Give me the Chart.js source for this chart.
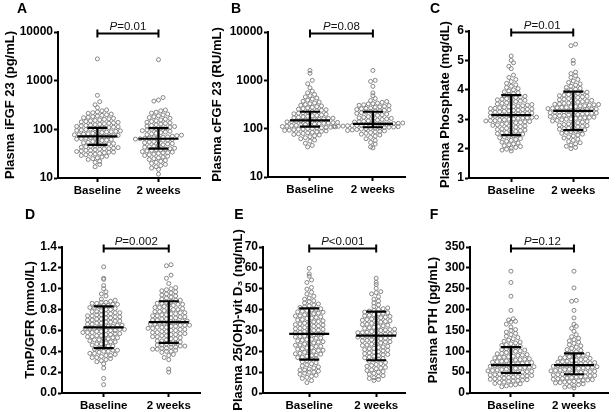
<!DOCTYPE html>
<html>
<head>
<meta charset="utf-8">
<script src="https://cdn.jsdelivr.net/npm/chart.js@4.4.1/dist/chart.umd.min.js"></script>
<style>
  html, body { margin: 0; padding: 0; background: #fff; }
  #wrap { position: relative; width: 616px; height: 412px; overflow: hidden; }
  #wrap canvas { position: absolute; }
</style>
</head>
<body>
<div id="wrap">
  <canvas id="cA" style="left:0;top:0"></canvas>
  <canvas id="cB" style="left:205px;top:0"></canvas>
  <canvas id="cC" style="left:410px;top:0"></canvas>
  <canvas id="cD" style="left:0;top:200px"></canvas>
  <canvas id="cE" style="left:205px;top:200px"></canvas>
  <canvas id="cF" style="left:410px;top:200px"></canvas>
</div>
<script>
const groups = ['Baseline', '2 weeks'];

// tick labels
const logTicks = [10, 100, 1000, 10000];
const phosTicks = [1, 2, 3, 4, 5, 6];
const tmpTicks = [0, 0.2, 0.4, 0.6, 0.8, 1.0, 1.2, 1.4];
const vitTicks = [0, 10, 20, 30, 40, 50, 60, 70];
const pthTicks = [0, 50, 100, 150, 200, 250, 300, 350];

const pLabels = ['=0.01', '=0.08', '=0.01', '=0.002', '<0.001', '=0.12'];

// A: iFGF23 (pg/mL)
const iFGFBase = [17,19,21,22,24,25,26,27,28,29,30,31,31,32,33,34,34,35,36,37,37,38,39,40,40,41,42,43,44,45,46,47,
  48,50,51,53,54,56,57,59,60,62,63,65,66,68,69,70,71,72,74,75,77,78,80,81,83,84,86,88,89,91,93,95,97,99,101,103,105,106,
  109,111,113,115,118,120,122,125,127,130,133,136,139,142,145,149,152,156,160,164,168,173,178,183,188,194,200,206,213,220,228,240,250,280,320,370,500,2800];
const iFGFWeek2 = [12,15,16,17,18,19,20,21,22,23,24,25,26,27,28,29,30,31,32,33,33,34,35,36,37,38,38,39,
  40,41,43,44,45,47,48,50,51,53,55,56,58,60,60,62,63,64,65,66,67,68,69,70,72,74,76,78,81,83,86,88,91,94,97,100,103,106,
  108,111,114,117,120,124,128,132,136,140,145,150,156,162,168,175,182,190,198,207,216,225,240,250,380,400,450,2700];
const iFGFMid = [72, 64];
const iFGFLow = [48, 40];
const iFGFHigh = [107, 106];

// B: cFGF23 (RU/mL)
const cFGFBase = [42,45,50,55,58,62,65,68,71,74,76,78,80,82,84,86,88,90,92,93,95,97,98,100,101,103,104,106,107,109,
  111,113,115,117,119,121,123,125,127,129,131,133,135,138,140,143,145,148,150,153,156,159,162,165,168,172,176,180,184,188,193,198,203,208,214,220,
  228,234,240,246,253,260,268,276,285,295,305,316,328,340,355,370,390,410,430,455,480,510,550,600,700,850,1000,1400,1600];
const cFGFWeek2 = [40,42,48,52,57,62,66,70,74,77,80,83,86,88,90,92,94,96,98,100,101,103,104,106,
  107,108,110,111,112,113,115,116,117,118,120,121,122,124,125,126,128,129,131,133,135,137,139,142,145,148,151,155,159,163,167,172,177,182,188,194,200,207,214,221,
  228,232,235,242,246,250,258,262,267,277,282,288,300,305,312,325,330,338,350,365,380,420,480,550,750,950,1000,1600];
const cFGFMid = [149, 126];
const cFGFLow = [110, 107];
const cFGFHigh = [224, 224];

// C: phosphate (mg/dL)
const phosBase = [1.92,1.95,1.98,2.01,2.04,2.07,2.10,2.13,2.16,2.19,2.22,2.25,2.28,2.31,2.34,2.37,2.40,2.42,2.44,
  2.47,2.49,2.51,2.53,2.55,2.57,2.59,2.61,2.63,2.65,2.67,2.69,2.71,2.73,2.75,2.77,2.79,2.81,2.83,2.85,
  2.86,2.88,2.89,2.91,2.92,2.94,2.95,2.95,2.97,2.98,3.00,3.01,3.03,3.04,3.05,3.06,3.07,3.09,3.10,3.12,3.13,3.15,3.16,3.18,3.19,3.20,3.21,3.22,3.24,3.25,3.27,3.28,3.30,3.31,3.33,3.34,3.35,3.36,3.37,3.39,3.40,3.42,3.43,3.45,3.46,3.48,
  3.50,3.52,3.54,3.56,3.58,3.60,3.62,3.64,3.66,3.68,3.70,3.72,3.74,3.76,3.78,3.80,
  3.84,3.87,3.90,3.93,3.96,4.00,4.04,4.08,4.12,4.17,4.22,4.28,4.35,4.42,4.50,4.72,4.80,4.92,5.00,5.15];
const phosWeek2 = [2.00,2.04,2.08,2.12,2.16,2.20,2.24,2.28,2.32,2.36,2.40,2.43,2.46,2.49,2.52,2.55,2.57,2.59,2.61,
  2.64,2.66,2.68,2.70,2.72,2.74,2.76,2.78,2.80,2.82,2.84,2.86,2.88,2.90,2.92,2.94,2.96,2.98,
  3.00,3.01,3.03,3.04,3.05,3.06,3.07,3.09,3.10,3.12,3.13,3.15,3.15,3.16,3.18,3.19,3.20,3.21,3.22,3.24,3.25,3.25,3.27,3.28,3.30,3.31,3.33,3.34,3.35,3.36,3.37,3.39,3.40,3.40,3.42,3.43,3.45,3.46,3.48,3.49,3.50,3.51,3.52,3.54,3.55,3.57,3.58,
  3.60,3.62,3.64,3.66,3.68,3.70,3.72,3.74,3.76,3.78,3.80,3.82,3.84,3.86,3.88,3.90,3.92,
  3.96,3.99,4.02,4.05,4.08,4.12,4.16,4.20,4.25,4.30,4.35,4.42,4.48,4.55,4.60,4.90,5.00,5.50,5.55];
const phosMid = [3.14, 3.28];
const phosLow = [2.46, 2.63];
const phosHigh = [3.82, 3.94];

// D: TmP/GFR (mmol/L)
const tmpBase = [0.08,0.14,0.24,0.28,0.30,0.31,0.32,0.33,0.34,0.34,0.35,0.36,0.36,0.37,0.38,0.38,0.39,0.40,0.40,0.41,0.41,0.42,
  0.43,0.44,0.45,0.45,0.46,0.47,0.47,0.48,0.49,0.49,0.50,0.51,0.51,0.52,0.52,0.53,0.53,0.54,0.54,0.55,0.55,0.56,0.56,0.57,0.57,0.58,0.58,0.58,0.59,0.59,0.60,0.60,0.60,0.61,0.61,0.62,0.62,0.62,0.63,0.63,0.64,0.64,0.65,0.65,0.66,0.66,0.67,0.67,0.68,0.68,0.69,0.69,0.70,0.70,0.71,0.71,0.72,0.72,0.73,0.73,0.74,0.74,0.75,0.75,0.76,0.76,0.77,0.77,0.78,0.78,0.79,0.80,0.80,0.81,0.82,0.82,0.83,
  0.84,0.84,0.85,0.85,0.86,0.86,0.87,0.87,0.88,0.89,0.90,0.93,0.95,0.97,1.00,1.03,1.09,1.10,1.21];
const tmpWeek2 = [0.20,0.23,0.32,0.34,0.36,0.37,0.39,0.40,0.40,0.41,0.42,0.42,0.43,0.43,0.44,0.44,0.45,0.45,0.46,0.46,0.47,0.47,
  0.48,0.49,0.50,0.50,0.51,0.52,0.52,0.53,0.54,0.54,0.55,0.55,0.56,0.56,0.57,0.57,0.58,0.58,0.59,0.59,0.60,0.60,0.61,0.61,0.62,0.62,0.63,0.63,0.63,0.64,0.64,0.65,0.65,0.65,0.66,0.66,0.67,0.67,0.67,0.68,0.68,0.69,0.69,0.70,0.70,0.71,0.71,0.72,0.72,0.73,0.73,0.74,0.74,0.75,0.75,0.76,0.76,0.77,0.77,0.78,0.78,0.79,0.79,0.80,0.80,0.81,0.82,0.82,0.83,0.84,0.84,0.85,0.85,0.86,0.86,0.87,0.88,
  0.89,0.89,0.90,0.91,0.92,0.93,0.94,0.95,0.96,0.97,0.98,0.99,1.00,1.01,1.05,1.10,1.13,1.22,1.23];
const tmpMid = [0.63, 0.68];
const tmpLow = [0.43, 0.48];
const tmpHigh = [0.83, 0.88];

// E: 25(OH)-vit D3 (ng/mL)
const vitBase = [5,6,7,7.5,8,8.5,9,9.5,10,10,10.5,11,11,11.5,12,12.5,13,13.5,14,14.5,15,15.5,
  16.3,16.5,17.0,17.2,17.6,17.9,18.1,18.6,18.8,19.0,19.5,19.7,20.0,20.4,20.5,21.0,21.2,21.6,21.8,22.3,22.4,22.9,23.0,23.5,23.6,24.0,24.4,24.6,25.0,25.3,25.6,25.8,26.3,26.4,26.9,27.1,27.3,27.8,28.0,28.3,28.5,28.9,29.1,29.5,29.7,30.0,30.1,30.5,30.8,31.0,31.4,31.5,32.0,32.2,32.6,32.8,33.1,33.5,33.6,34.1,34.3,34.6,35.0,35.2,35.7,35.9,36.2,36.5,36.9,37.0,37.5,37.7,38.0,38.3,38.7,38.9,39.2,39.6,39.8,40.1,40.4,
  41,41.3,41.8,42.2,42.7,43.1,43.8,44.2,45,45.5,46.4,47.5,48.3,49.8,50.6,53,54.2,56,57.1,59.8];
const vitWeek2 = [6,6.5,7,7.4,8,8.3,9,9.4,10,10.2,10.8,11.1,11.6,12,12.3,12.8,13.2,13.7,14.1,14.6,15.2,
  15.9,16.2,16.6,16.9,17.3,17.5,17.9,18.3,18.5,18.9,19.2,19.6,19.8,20.2,20.5,20.8,21.2,21.4,21.8,22.1,22.4,22.8,23.0,23.4,23.7,24.0,24.4,24.6,25.0,25.3,25.5,25.9,26.0,26.2,26.5,26.8,27.0,27.2,27.4,27.7,28.0,28.2,28.3,28.6,28.9,29.0,29.1,29.5,29.8,30.0,30.2,30.4,30.6,31.0,31.3,31.5,31.9,32.2,32.5,32.8,33.0,33.4,33.7,34.0,34.3,34.6,34.9,35.2,35.5,35.8,36.1,36.4,36.7,37.0,37.3,37.6,37.9,38.2,38.5,38.8,
  39.3,39.7,40.1,40.4,40.8,41.5,42.3,43.2,44.1,45.0,46.2,47.5,48.1,48.6,50.2,52.0,53.1,55.0];
const vitMid = [28.3, 27.5];
const vitLow = [16.0, 15.7];
const vitHigh = [40.6, 39.0];

// F: PTH (pg/mL)
const pthBase = [15,17,19,20,22,23,25,26,28,29,30,31,32,33,34,35,36,37,38,39,40,41,42,43,44,45,46,47,
  48,49,50,51,52,53,54,55,56,57,58,59,60,61,62,63,64,65,66,67,68,69,70,71,72,73,74,75,76,77,78,79,80,81,82,84,85,86,87,88,90,91,92,94,95,97,98,100,101,103,104,106,107,109,
  112,114,116,118,120,122,124,127,130,133,136,140,143,146,150,152,158,165,170,172,175,178,198,232,265,292];
const pthWeek2 = [12,14,16,18,20,22,24,25,26,27,28,29,30,31,32,33,34,35,36,37,38,39,40,41,42,43,44,
  45,46,47,48,49,50,51,52,53,54,55,56,57,58,59,60,61,62,63,64,65,66,67,68,69,70,71,72,73,74,75,76,78,79,80,81,83,84,85,87,88,90,91,93,95,
  97,99,102,104,107,110,113,116,119,122,125,128,131,135,140,148,155,160,165,180,198,220,222,252,292];
const pthMid = [67, 67];
const pthLow = [48, 45];
const pthHigh = [110, 95];

const FONT = "'Liberation Sans', Arial, Helvetica, sans-serif";
const ROW = 4.2;   // height of a dot row, px
const PITCH = 4.6; // distance between dots in a row, px

const panels = [
  { id: 'cA', letter: 'A', w: 205, h: 200, title: 'Plasma iFGF 23 (pg/mL)', log: true, ticks: logTicks,
    series: [iFGFBase, iFGFWeek2], mid: iFGFMid, low: iFGFLow, high: iFGFHigh, p: pLabels[0],
    titleX: 10, axisX: 58, top: 32, bottom: 178, right: 202, xMin: 0.355, xMax: 2.68, lx: 22, ly: 9 },
  { id: 'cB', letter: 'B', w: 205, h: 200, title: 'Plasma cFGF 23 (RU/mL)', log: true, ticks: logTicks,
    series: [cFGFBase, cFGFWeek2], mid: cFGFMid, low: cFGFLow, high: cFGFHigh, p: pLabels[1],
    titleX: 12, axisX: 63, top: 32, bottom: 177, right: 200, xMin: 0.333, xMax: 2.51, lx: 31, ly: 9 },
  { id: 'cC', letter: 'C', w: 206, h: 200, title: 'Plasma Phosphate (mg/dL)', log: false, ticks: phosTicks,
    series: [phosBase, phosWeek2], mid: phosMid, low: phosLow, high: phosHigh, p: pLabels[2],
    titleX: 35, axisX: 59, top: 31, bottom: 178, right: 198, xMin: 0.32, xMax: 2.56, lx: 25, ly: 9 },
  { id: 'cD', letter: 'D', w: 205, h: 212, title: 'TmP/GFR (mmol/L)', log: false, ticks: tmpTicks, dec: 1,
    series: [tmpBase, tmpWeek2], mid: tmpMid, low: tmpLow, high: tmpHigh, p: pLabels[3],
    titleX: 30, axisX: 62, top: 47, bottom: 193, right: 202, xMin: 0.36, xMax: 2.48, lx: 30, ly: 15 },
  { id: 'cE', letter: 'E', w: 205, h: 212, title: 'Plasma 25(OH)-vit D\u2083 (ng/mL)', log: false, ticks: vitTicks,
    series: [vitBase, vitWeek2], mid: vitMid, low: vitLow, high: vitHigh, p: pLabels[4],
    titleX: 33, axisX: 58, top: 47, bottom: 193, right: 200, xMin: 0.31, xMax: 2.43, lx: 34, ly: 15 },
  { id: 'cF', letter: 'F', w: 206, h: 212, title: 'Plasma PTH (pg/mL)', log: false, ticks: pthTicks,
    series: [pthBase, pthWeek2], mid: pthMid, low: pthLow, high: pthHigh, p: pLabels[5],
    titleX: 23, axisX: 60, top: 47, bottom: 193, right: 198, xMin: 0.35, xMax: 2.54, lx: 24, ly: 15 }
];

// centre line + error bars, P bracket and panel letter
function decorations(p) {
  return {
    id: 'deco_' + p.id,
    afterDatasetsDraw(chart) {
      const { ctx, scales: { x, y } } = chart;
      ctx.save();
      ctx.strokeStyle = '#000';
      ctx.lineWidth = 2.2;
      for (let i = 0; i < 2; i++) {
        const cx = x.getPixelForValue(i + 1);
        const ym = y.getPixelForValue(p.mid[i]);
        const y1 = y.getPixelForValue(p.low[i]);
        const y3 = y.getPixelForValue(p.high[i]);
        ctx.beginPath();
        ctx.moveTo(cx - 20, ym); ctx.lineTo(cx + 20, ym);
        ctx.moveTo(cx, y1); ctx.lineTo(cx, y3);
        ctx.moveTo(cx - 10, y1); ctx.lineTo(cx + 10, y1);
        ctx.moveTo(cx - 10, y3); ctx.lineTo(cx + 10, y3);
        ctx.stroke();
      }
      ctx.restore();
    },
    afterDraw(chart) {
      const { ctx, chartArea, scales: { x } } = chart;
      const c1 = x.getPixelForValue(1), c2 = x.getPixelForValue(2);
      const by = chartArea.top + 1.5;
      ctx.save();
      ctx.strokeStyle = '#000';
      ctx.lineWidth = 2;
      ctx.beginPath();
      ctx.moveTo(c1, by); ctx.lineTo(c2, by);
      ctx.moveTo(c1, by - 4); ctx.lineTo(c1, by + 4);
      ctx.moveTo(c2, by - 4); ctx.lineTo(c2, by + 4);
      ctx.stroke();

      ctx.fillStyle = '#111';
      ctx.textBaseline = 'alphabetic';
      ctx.textAlign = 'left';
      ctx.font = 'italic 11.5px ' + FONT;
      const wP = ctx.measureText('P').width;
      ctx.font = '11.5px ' + FONT;
      const wR = ctx.measureText(p.p).width;
      const tx = (c1 + c2) / 2 - (wP + wR) / 2;
      const ty = chartArea.top - 2;
      ctx.font = 'italic 11.5px ' + FONT;
      ctx.fillText('P', tx, ty);
      ctx.font = '11.5px ' + FONT;
      ctx.fillText(p.p, tx + wP, ty);

      ctx.fillStyle = '#000';
      ctx.font = 'bold 14px ' + FONT;
      ctx.textAlign = 'center';
      ctx.textBaseline = 'middle';
      ctx.fillText(p.letter, p.lx, p.ly);
      ctx.restore();
    }
  };
}

// scatter dot plot: dots binned into rows and centred side by side
function spreadDots(chart, p) {
  const xs = chart.scales.x, ys = chart.scales.y;
  const unit = xs.getPixelForValue(2) - xs.getPixelForValue(1);
  chart.data.datasets.forEach((ds, i) => {
    const rows = new Map();
    p.series[i].forEach(v => {
      const r = Math.round((ys.getPixelForValue(v) - chart.chartArea.top) / ROW);
      if (!rows.has(r)) rows.set(r, []);
      rows.get(r).push(v);
    });
    const pts = [];
    rows.forEach(vals => {
      const n = vals.length;
      vals.forEach((v, k) => {
        const dx = (k - (n - 1) / 2) * PITCH;
        pts.push({ x: i + 1 + dx / unit, y: v });
      });
    });
    ds.data = pts;
  });
  chart.update('none');
}

function makeChart(p) {
  const canvas = document.getElementById(p.id);
  canvas.width = p.w;
  canvas.height = p.h;
  const padLeft = p.titleX - 7.8;

  const datasets = p.series.map((vals, i) => ({
    data: vals.map(v => ({ x: i + 1, y: v })),
    pointRadius: 2,
    pointBorderWidth: 1,
    pointBorderColor: '#858585',
    pointBackgroundColor: 'rgba(255,255,255,0)',
    showLine: false
  }));

  const chart = new Chart(canvas, {
    type: 'scatter',
    data: { datasets },
    options: {
      responsive: false,
      animation: false,
      devicePixelRatio: 1,
      events: [],
      layout: { padding: { left: padLeft, top: p.top, right: p.w - p.right, bottom: 0 } },
      plugins: { legend: { display: false }, tooltip: { enabled: false } },
      scales: {
        x: {
          type: 'linear',
          min: p.xMin,
          max: p.xMax,
          afterFit: s => { s.height = p.h - p.bottom; },
          afterBuildTicks: s => { s.ticks = [{ value: 1 }, { value: 2 }]; },
          ticks: {
            callback: (v, i) => groups[i],
            color: '#000',
            font: { family: FONT, size: 11.5, weight: 'bold' },
            padding: 2,
            maxRotation: 0,
            autoSkip: false
          },
          grid: { drawOnChartArea: false, drawTicks: true, tickLength: 4, tickWidth: 2, tickColor: '#000' },
          border: { display: true, color: '#000', width: 2 }
        },
        y: {
          type: p.log ? 'logarithmic' : 'linear',
          min: p.ticks[0],
          max: p.ticks[p.ticks.length - 1],
          afterFit: s => { s.width = p.axisX - padLeft; },
          afterBuildTicks: s => { s.ticks = p.ticks.map(v => ({ value: v })); },
          ticks: {
            callback: v => p.dec ? v.toFixed(p.dec) : String(v),
            color: '#000',
            font: { family: FONT, size: 12, weight: 'bold' },
            padding: 1,
            autoSkip: false
          },
          title: {
            display: true,
            text: p.title,
            color: '#000',
            font: { family: FONT, size: 13, weight: 'bold' },
            padding: 0
          },
          grid: { drawOnChartArea: false, drawTicks: true, tickLength: 4, tickWidth: 2, tickColor: '#000' },
          border: { display: true, color: '#000', width: 2 }
        }
      }
    },
    plugins: [decorations(p)]
  });
  spreadDots(chart, p);
  return chart;
}

panels.forEach(makeChart);
</script>
</body>
</html>
